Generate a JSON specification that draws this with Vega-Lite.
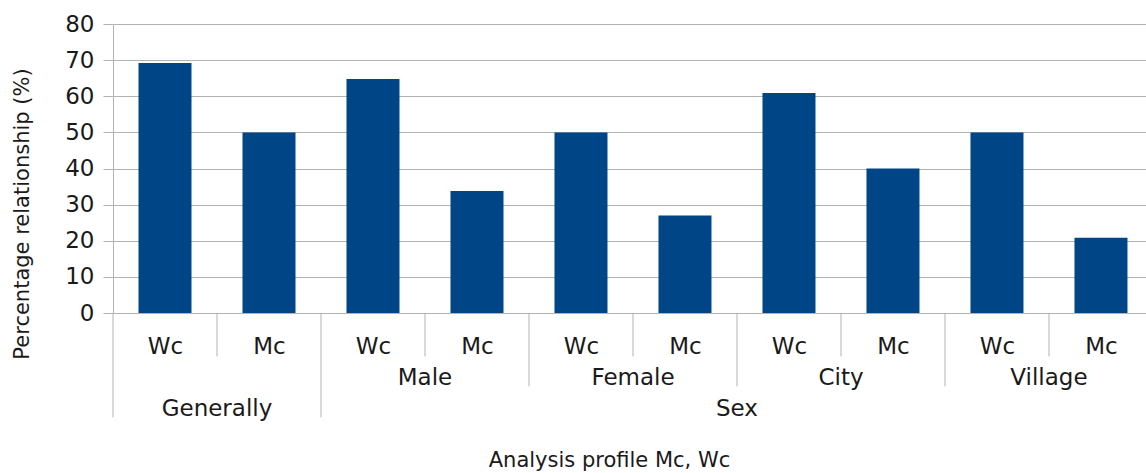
{
  "$schema": "https://vega.github.io/schema/vega-lite/v6.json",
  "autosize": "none",
  "width": 1033,
  "height": 289,
  "padding": {"left": 113, "top": 24, "right": 0, "bottom": 160},
  "background": "white",
  "config": {
    "font": "DejaVu Sans",
    "view": {"stroke": null},
    "axis": {"labelFont": "DejaVu Sans", "titleFont": "DejaVu Sans", "labelColor": "#1a1a1a", "titleColor": "#1a1a1a", "titleFontWeight": "normal", "labelOverlap": false}
  },
  "datasets": {
    "bars": [
      {"group": "Generally", "sub": "Generally", "kind": "Wc", "pos": 0.5, "value": 69.2},
      {"group": "Generally", "sub": "Generally", "kind": "Mc", "pos": 1.5, "value": 50},
      {"group": "Sex", "sub": "Male", "kind": "Wc", "pos": 2.5, "value": 64.8},
      {"group": "Sex", "sub": "Male", "kind": "Mc", "pos": 3.5, "value": 33.8},
      {"group": "Sex", "sub": "Female", "kind": "Wc", "pos": 4.5, "value": 50},
      {"group": "Sex", "sub": "Female", "kind": "Mc", "pos": 5.5, "value": 27},
      {"group": "Sex", "sub": "City", "kind": "Wc", "pos": 6.5, "value": 60.9},
      {"group": "Sex", "sub": "City", "kind": "Mc", "pos": 7.5, "value": 40},
      {"group": "Sex", "sub": "Village", "kind": "Wc", "pos": 8.5, "value": 50},
      {"group": "Sex", "sub": "Village", "kind": "Mc", "pos": 9.5, "value": 20.8}
    ],
    "separators": [
      {"pos": 0, "level": 3}, {"pos": 1, "level": 1}, {"pos": 2, "level": 3},
      {"pos": 3, "level": 1}, {"pos": 4, "level": 2}, {"pos": 5, "level": 1},
      {"pos": 6, "level": 2}, {"pos": 7, "level": 1}, {"pos": 8, "level": 2},
      {"pos": 9, "level": 1}
    ],
    "labels": [
      {"label": "Male", "center": 3, "level": 2},
      {"label": "Female", "center": 5, "level": 2},
      {"label": "City", "center": 7, "level": 2},
      {"label": "Village", "center": 9, "level": 2},
      {"label": "Generally", "center": 1, "level": 3},
      {"label": "Sex", "center": 6, "level": 3}
    ]
  },
  "layer": [
    {
      "data": {"name": "bars"},
      "mark": {"type": "bar", "size": 53, "color": "#004586"},
      "encoding": {
        "x": {
          "field": "pos", "type": "quantitative",
          "scale": {"domain": [0, 9.933], "nice": false, "zero": false, "padding": 0},
          "axis": {
            "values": [0.5, 1.5, 2.5, 3.5, 4.5, 5.5, 6.5, 7.5, 8.5, 9.5],
            "labelExpr": "floor(datum.value) % 2 == 0 ? 'Wc' : 'Mc'",
            "labelFontSize": 23, "labelBaseline": "middle", "labelPadding": 33, "labelFlush": false, "labelOverlap": false,
            "ticks": false, "grid": false, "domain": true, "domainColor": "#b3b3b3", "domainWidth": 1,
            "title": "Analysis profile Mc, Wc", "titleFontSize": 21,
            "titleX": 496, "titleY": 147.5, "titleBaseline": "middle", "titleAlign": "center"
          }
        },
        "y": {
          "field": "value", "type": "quantitative",
          "scale": {"domain": [0, 80], "nice": false},
          "axis": {
            "values": [0, 10, 20, 30, 40, 50, 60, 70, 80],
            "tickCount": 9,
            "labelOverlap": false,
            "labelFontSize": 23, "labelPadding": 9, "labelFlush": false,
            "tickSize": 10, "tickColor": "#b3b3b3", "domainColor": "#b3b3b3",
            "gridColor": "#b3b3b3", "gridOpacity": 1,
            "title": "Percentage relationship (%)", "titleFontSize": 21,
            "titleX": -91, "titleY": 189.5, "titleBaseline": "middle", "titleAlign": "center", "titleAngle": -90
          }
        }
      }
    },
    {
      "data": {"name": "separators"},
      "transform": [{"filter": "datum.level == 1"}],
      "mark": {"type": "rule", "color": "#b3b3b3", "strokeWidth": 1},
      "encoding": {"x": {"field": "pos", "type": "quantitative"}, "y": {"datum": 0}, "y2": {"datum": -12}}
    },
    {
      "data": {"name": "separators"},
      "transform": [{"filter": "datum.level == 2"}],
      "mark": {"type": "rule", "color": "#b3b3b3", "strokeWidth": 1},
      "encoding": {"x": {"field": "pos", "type": "quantitative"}, "y": {"datum": 0}, "y2": {"datum": -20.3}}
    },
    {
      "data": {"name": "separators"},
      "transform": [{"filter": "datum.level == 3"}],
      "mark": {"type": "rule", "color": "#b3b3b3", "strokeWidth": 1},
      "encoding": {"x": {"field": "pos", "type": "quantitative"}, "y": {"datum": 0}, "y2": {"datum": -28.9}}
    },
    {
      "data": {"name": "labels"},
      "transform": [{"filter": "datum.level == 2"}],
      "mark": {"type": "text", "fontSize": 23, "color": "#1a1a1a", "baseline": "middle", "align": "center"},
      "encoding": {"x": {"field": "center", "type": "quantitative"}, "y": {"datum": -18.1}, "text": {"field": "label"}}
    },
    {
      "data": {"name": "labels"},
      "transform": [{"filter": "datum.level == 3"}],
      "mark": {"type": "text", "fontSize": 23, "color": "#1a1a1a", "baseline": "middle", "align": "center"},
      "encoding": {"x": {"field": "center", "type": "quantitative"}, "y": {"datum": -26.7}, "text": {"field": "label"}}
    }
  ]
}
